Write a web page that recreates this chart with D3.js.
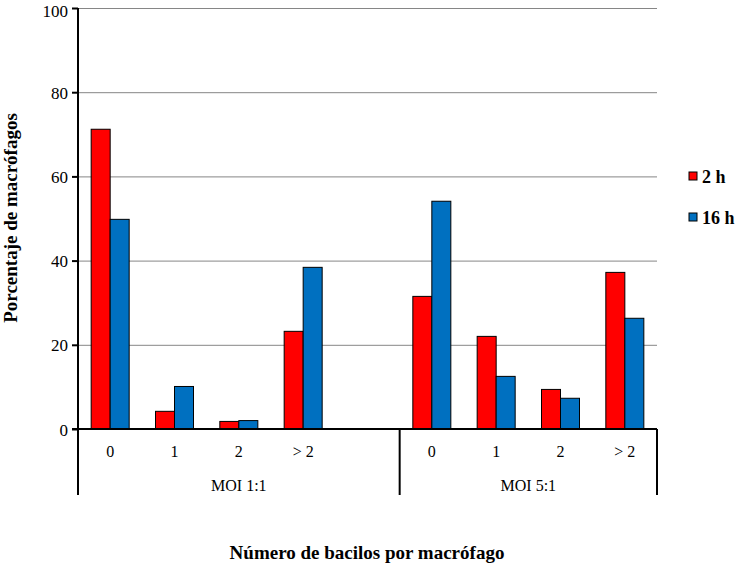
<!DOCTYPE html>
<html><head><meta charset="utf-8">
<script src="https://cdn.jsdelivr.net/npm/d3@7"></script>
</head><body style="margin:0"><svg id="c" width="736" height="566"></svg>
<script>
const slots = ["a0","a1","a2","a3","gap","b0","b1","b2","b3"];
const tickLabels = ["0","1","2","> 2","","0","1","2","> 2"];
const groups = ["MOI 1:1","MOI 5:1"];
const seriesNames = ["2 h","16 h"];
const colors = ["#ff0000","#0070c0"];
const vals2h  = [71.2, 4.2, 1.8, 23.2, null, 31.5, 22.0, 9.4, 37.2];
const vals16h = [49.8,10.1, 2.0, 38.4, null, 54.1, 12.5, 7.3, 26.3];
const yTicks = [0,20,40,60,80,100];

const FONT = '"Liberation Serif"';
function ser(sel, size, bold){
  sel.style("font-family",FONT,"important").style("font-size",size+"px","important")
     .style("font-weight",bold?"bold":"normal","important");
  return sel;
}
const svg = d3.select("#c");
const L=78, R=657, T=8, B=429;
const x = d3.scaleBand().domain(slots).range([L,R]).paddingInner(0).paddingOuter(0);
const y = d3.scaleLinear().domain([0,100]).range([B,T]);
const bw = 19;

// gridlines
svg.append("g").selectAll("line").data(yTicks.filter(d=>d>0)).join("line")
  .attr("x1",L).attr("x2",R).attr("y1",d=>y(d)+0.5).attr("y2",d=>y(d)+0.5)
  .attr("stroke","#868686").attr("stroke-width",1);

// bars
[vals2h, vals16h].forEach((vals,si)=>{
  svg.append("g").selectAll("rect").data(slots.map((s,i)=>({s,v:vals[i]})).filter(d=>d.v!=null)).join("rect")
    .attr("x",d=>x(d.s)+x.bandwidth()/2 - bw + si*bw)
    .attr("y",d=>y(d.v)).attr("width",bw).attr("height",d=>B-y(d.v))
    .attr("fill",colors[si]).attr("stroke","#000").attr("stroke-width",1);
});

// y axis
const ya = d3.axisLeft(y).tickValues(yTicks).tickSize(6).tickSizeOuter(0).tickFormat(d3.format("d"));
const yg = svg.append("g").attr("transform",`translate(${L},0)`).call(ya);
yg.attr("font-family",null).attr("font-size",null);
yg.select(".domain").remove();
yg.selectAll(".tick line").attr("stroke","#000").attr("stroke-width",2);
ser(yg.selectAll(".tick text"),17,false).attr("fill","#000").attr("x",-10).attr("dy","0.36em");
yg.selectAll(".tick").filter(d=>d===100).select("text").attr("dy","0.5em");
svg.append("line").attr("x1",L).attr("x2",L).attr("y1",T).attr("y2",495).attr("stroke","#000").attr("stroke-width",2);

// x axis
svg.append("line").attr("x1",L-6).attr("x2",R).attr("y1",B).attr("y2",B).attr("stroke","#000").attr("stroke-width",2);
const xa = d3.axisBottom(x).tickSize(0).tickFormat((d,i)=>tickLabels[i]);
const xg = svg.append("g").attr("transform",`translate(0,${B})`).call(xa);
xg.attr("font-family",null).attr("font-size",null);
xg.select(".domain").remove();
ser(xg.selectAll(".tick text"),16,false).attr("fill","#000").attr("dy",0).attr("y",28);
// group separators
const sep = x("b0");
[sep, R].forEach(px=>{
  svg.append("line").attr("x1",px).attr("x2",px).attr("y1",B).attr("y2",495).attr("stroke","#000").attr("stroke-width",2);
});
const gx = [(L + sep)/2, (sep + R)/2];
ser(svg.selectAll(".grp").data(groups).join("text").attr("class","grp")
  .attr("x",(d,i)=>gx[i]).attr("y",491).attr("text-anchor","middle"),16,false).text(d=>d);

// titles
ser(svg.append("text").attr("x",367).attr("y",559).attr("text-anchor","middle"),19,true).text("Número de bacilos por macrófago");
ser(svg.append("text").attr("transform","translate(17,218) rotate(-90)").attr("text-anchor","middle"),19,true).text("Porcentaje de macrófagos");

// legend
const lg = svg.append("g");
seriesNames.forEach((n,i)=>{
  const yy = 176 + i*41;
  lg.append("rect").attr("x",689).attr("y",yy-4).attr("width",8).attr("height",8).attr("fill",colors[i]).attr("stroke","#000").attr("stroke-width",1);
  ser(lg.append("text").attr("x",702).attr("y",yy+7),18,true).text(n);
});
</script></body></html>
